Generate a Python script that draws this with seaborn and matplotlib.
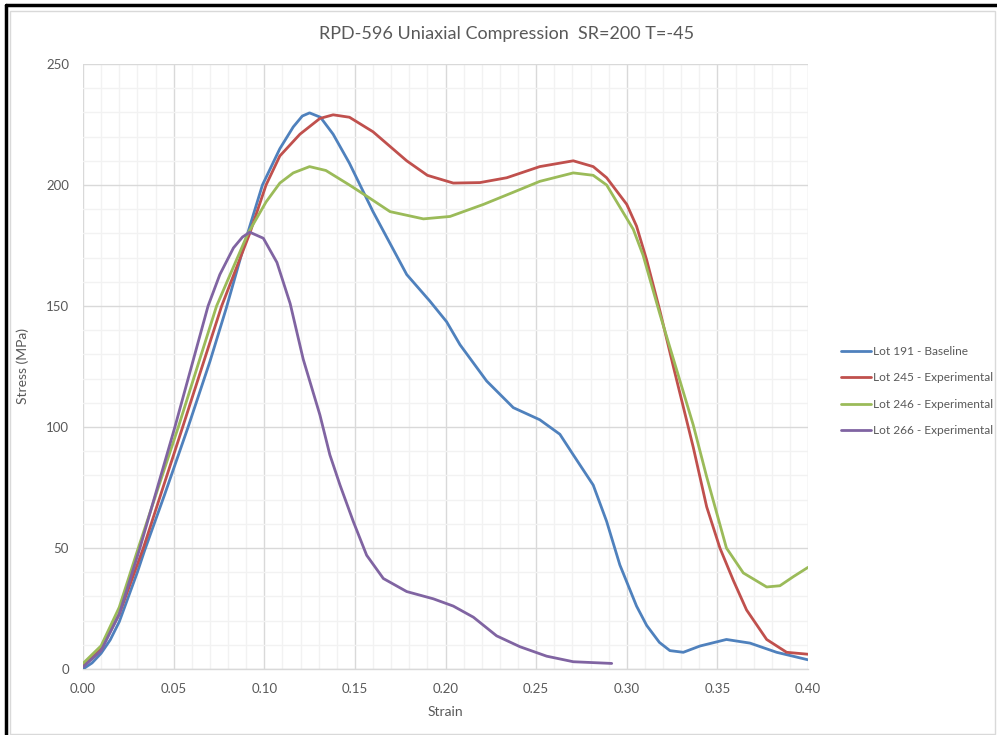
import numpy as np
import pandas as pd
import matplotlib
matplotlib.use("Agg")
import matplotlib.pyplot as plt
import seaborn as sns
from matplotlib.lines import Line2D
from matplotlib.patches import Rectangle

title = "RPD-596 Uniaxial Compression  SR=200 T=-45"
x_label = "Strain"
y_label = "Stress (MPa)"
series_names = ["Lot 191 - Baseline", "Lot 245 - Experimental",
                "Lot 246 - Experimental", "Lot 266 - Experimental"]
colors = ["#4F81BD", "#C0504D", "#9BBB59", "#8064A2"]

lot191_strain = [0.000, 0.005, 0.010, 0.015, 0.020, 0.030, 0.034, 0.045, 0.058, 0.070, 0.079, 0.090,
                 0.099, 0.1086, 0.116, 0.121, 0.125, 0.131, 0.138, 0.147, 0.160, 0.1786, 0.1914,
                 0.2006, 0.208, 0.2227, 0.2374, 0.252, 0.2631, 0.2705, 0.2815, 0.2889,
                 0.2962, 0.3054, 0.311, 0.318, 0.3238, 0.3312, 0.3404, 0.355, 0.368, 0.3827, 0.400]
lot191_stress = [0.0, 2.5, 6.5, 12.0, 19.5, 40.0, 49.0, 72.0, 100.0, 127.0, 149.0, 178.0,
                 200.0, 215.0, 224.0, 228.5, 229.8, 228.0, 221.0, 209.0, 189.0, 163.0, 152.0,
                 143.5, 134.0, 119.0, 108.0, 103.0, 97.0, 88.5, 76.0, 61.0,
                 43.0, 26.0, 18.0, 11.0, 7.6, 6.9, 9.5, 12.2, 10.7, 6.9, 3.8]

lot245_strain = [0.000, 0.010, 0.020, 0.0333, 0.055, 0.0765, 0.092, 0.101, 0.1086, 0.1197,
                 0.1307, 0.138, 0.147, 0.160, 0.1786, 0.190, 0.2043, 0.219, 0.2338, 0.252,
                 0.2705, 0.2815, 0.2889, 0.300, 0.3054, 0.311, 0.3183, 0.3257, 0.3367,
                 0.3441, 0.3514, 0.3588, 0.3661, 0.3772, 0.3882, 0.400]
lot245_stress = [1.5, 8.3, 22.7, 50.0, 100.0, 150.0, 180.0, 200.0, 212.0, 221.0,
                 227.5, 229.0, 228.0, 222.0, 210.0, 204.0, 200.8, 201.0, 203.0, 207.6,
                 210.0, 207.6, 203.0, 192.0, 183.0, 169.0, 148.0, 125.0, 91.6,
                 67.0, 50.0, 36.6, 24.4, 12.2, 6.9, 6.1]

lot246_strain = [0.000, 0.010, 0.020, 0.0305, 0.0526, 0.0737, 0.091, 0.101, 0.1086, 0.116,
                 0.125, 0.134, 0.147, 0.1565, 0.1694, 0.1878, 0.2025, 0.221, 0.2374, 0.252,
                 0.2705, 0.2815, 0.2889, 0.3036, 0.309, 0.3183, 0.3275, 0.3367, 0.3441,
                 0.355, 0.3643, 0.3772, 0.3845, 0.392, 0.400]
lot246_stress = [2.3, 9.6, 25.5, 50.0, 100.0, 150.0, 180.0, 193.0, 200.8, 205.0,
                 207.6, 206.0, 200.0, 195.4, 189.0, 186.0, 187.0, 192.0, 197.0, 201.5,
                 205.0, 204.0, 200.0, 181.7, 171.0, 146.6, 123.7, 100.8, 79.4,
                 50.0, 39.7, 33.9, 34.4, 38.2, 42.0]

lot266_strain = [0.000, 0.010, 0.020, 0.0314, 0.0507, 0.069, 0.0755, 0.083, 0.088, 0.092, 0.0995,
                 0.107, 0.1143, 0.1215, 0.1307, 0.1362, 0.1418, 0.1491, 0.1565, 0.1657,
                 0.1786, 0.1933, 0.2043, 0.2154, 0.2282, 0.2411, 0.2558, 0.2705, 0.2917]
lot266_stress = [0.8, 7.6, 22.7, 50.0, 100.0, 150.0, 163.0, 174.0, 178.5, 180.5, 178.0,
                 168.0, 151.0, 128.0, 105.0, 88.5, 76.0, 61.0, 47.0, 37.4,
                 32.0, 29.0, 26.0, 21.4, 13.7, 9.2, 5.3, 3.0, 2.3]

x_ticks = [0.00, 0.05, 0.10, 0.15, 0.20, 0.25, 0.30, 0.35, 0.40]
y_ticks = [0, 50, 100, 150, 200, 250]

frames = []
for name, xs, ys in zip(series_names,
                        [lot191_strain, lot245_strain, lot246_strain, lot266_strain],
                        [lot191_stress, lot245_stress, lot246_stress, lot266_stress]):
    frames.append(pd.DataFrame({"Strain": xs, "Stress": ys, "Series": name}))
df = pd.concat(frames, ignore_index=True)

sns.set_theme(style="white")
plt.rcParams['font.family'] = ['Lato', 'DejaVu Sans']

W, H = 997, 735
fig = plt.figure(figsize=(W / 100, H / 100), dpi=100)
ax = fig.add_axes([83 / W, 1 - 669 / H, (808 - 83) / W, (669 - 64) / H])

sns.lineplot(data=df, x="Strain", y="Stress", hue="Series", hue_order=series_names,
             palette=colors, sort=False, estimator=None, linewidth=2.0, ax=ax,
             legend=False, zorder=3)

ax.set_xlim(0, 0.40)
ax.set_ylim(0, 250)
ax.set_xticks(x_ticks)
ax.set_xticklabels([f"{v:.2f}" for v in x_ticks])
ax.set_yticks(y_ticks)
ax.set_yticklabels([str(v) for v in y_ticks])
ax.set_xticks(np.arange(0, 0.4001, 0.01), minor=True)
ax.set_yticks(np.arange(0, 250.1, 10), minor=True)
ax.grid(which="minor", color="#F2F2F2", linewidth=1.0, zorder=0)
ax.grid(which="major", color="#D9D9D9", linewidth=1.0, zorder=1)
ax.set_axisbelow(True)
for s in ["top", "right", "left"]:
    ax.spines[s].set_visible(False)
ax.spines["bottom"].set_color("#D9D9D9")
ax.spines["bottom"].set_linewidth(1.0)
ax.tick_params(axis="both", which="both", length=0, colors="#595959", labelsize=9.5)
ax.tick_params(axis="x", pad=10)
ax.tick_params(axis="y", pad=10)

ax.set_xlabel(x_label, color="#595959", fontsize=10, labelpad=8)
ax.set_ylabel(y_label, color="#595959", fontsize=10, labelpad=12)

fig.text(507 / W, 1 - 34 / H, title, ha="center", va="center",
         color="#595959", fontsize=13)

handles = [Line2D([0], [0], color=c, lw=2) for c in colors]
fig.legend(handles, series_names, loc="center left",
           bbox_to_anchor=(841 / W, 1 - 391 / H), frameon=False,
           fontsize=8.6, labelcolor="#595959", handlelength=2.5,
           handletextpad=0.15, labelspacing=1.3, borderaxespad=0,
           borderpad=0)

# chart border: light gray frame and black outer edges on top/left
fig.patches.append(Rectangle((10 / W, 0.002), 1 - 12 / W, 1 - 12 / H,
                             transform=fig.transFigure, fill=False,
                             edgecolor="#D9D9D9", linewidth=1.0))
fig.lines.append(Line2D([6 / W, 6 / W], [0, 1 - 5 / H], transform=fig.transFigure,
                        color="black", linewidth=2.5))
fig.lines.append(Line2D([6 / W, 1], [1 - 5 / H, 1 - 5 / H], transform=fig.transFigure,
                        color="black", linewidth=2.5))

fig.savefig("out.png", dpi=100, facecolor="white")
